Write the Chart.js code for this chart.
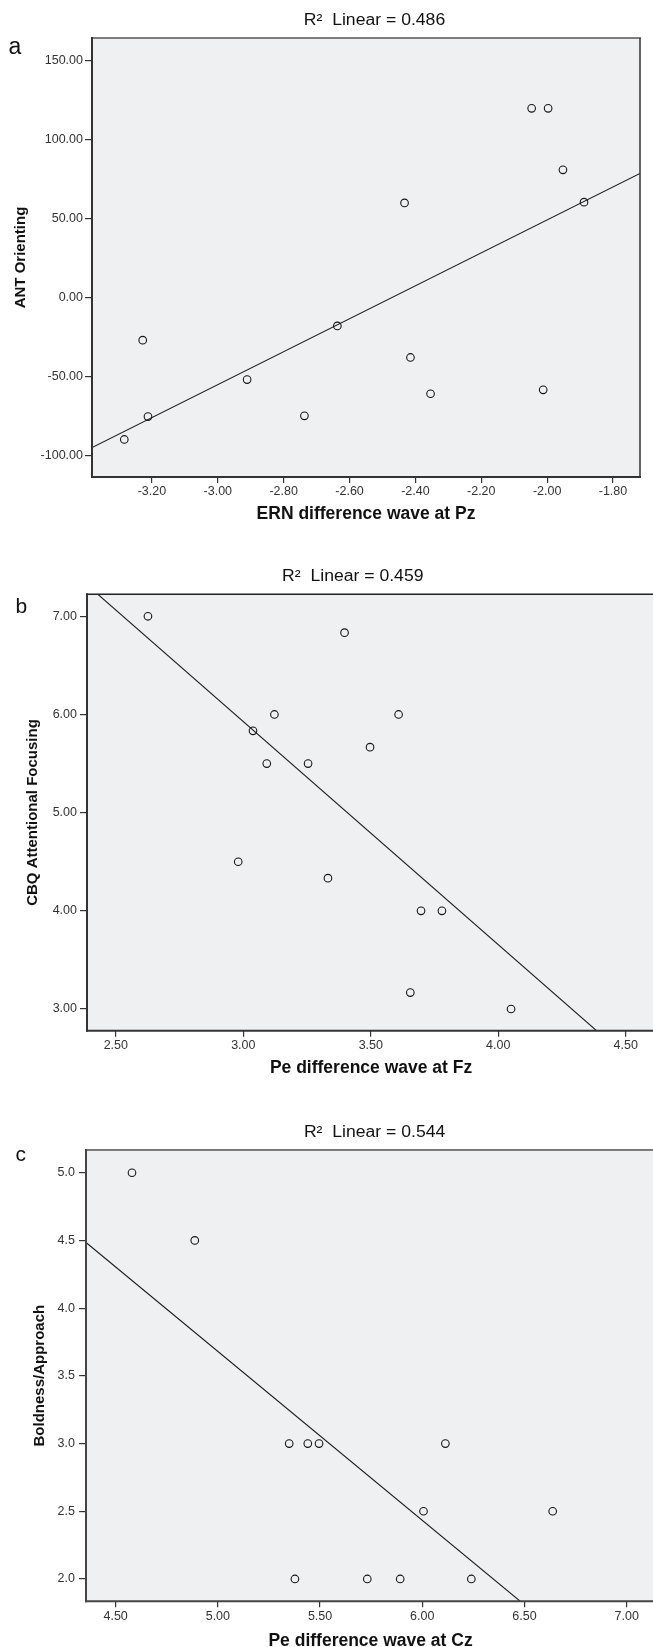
<!DOCTYPE html>
<html>
<head>
<meta charset="utf-8">
<script src="https://cdn.jsdelivr.net/npm/chart.js@4.4.1/dist/chart.umd.min.js"></script>
<style>
html,body{margin:0;padding:0;background:#fff;overflow:hidden;width:653px;height:1647px;position:relative;}
.wrap{position:absolute;left:0;}
canvas{display:block;}
</style>
</head>
<body>
<div class="wrap" style="top:0px;width:653px;height:535px"><canvas id="ca"></canvas></div>
<div class="wrap" style="top:535px;width:660px;height:545px"><canvas id="cb"></canvas></div>
<div class="wrap" style="top:1080px;width:660px;height:580px"><canvas id="cc"></canvas></div>
<script>
// ---------- data ----------
const panelLetters = ['a', 'b', 'c'];
const r2Labels = ['0.486', '0.459', '0.544'];

const ernPz        = [-2.047, -1.997, -1.952, -1.888, -2.433, -3.228, -3.212, -3.284, -2.911, -2.737, -2.637, -2.415, -2.354, -2.012];
const antOrienting = [120, 120, 81, 60.5, 60, -27, -75.5, -90, -52, -75, -18, -38, -61, -58.5];

const peFz         = [2.626, 3.397, 3.122, 3.609, 3.038, 3.497, 3.092, 3.254, 2.98, 3.332, 3.697, 3.779, 3.655, 4.05];
const cbqFocusing  = [7.0, 6.833, 6.0, 6.0, 5.833, 5.667, 5.5, 5.5, 4.5, 4.333, 4.0, 4.0, 3.167, 3.0];

const peCz             = [4.58, 4.887, 5.349, 5.44, 5.495, 6.113, 6.006, 6.638, 5.377, 5.731, 5.892, 6.24];
const boldnessApproach = [5, 4.5, 3, 3, 3, 3, 2.5, 2.5, 2, 2, 2, 2];

const xTitles = ['ERN difference wave at Pz', 'Pe difference wave at Fz', 'Pe difference wave at Cz'];
const yTitles = ['ANT Orienting', 'CBQ Attentional Focusing', 'Boldness/Approach'];

const aXTickLabels = ['-3.20', '-3.00', '-2.80', '-2.60', '-2.40', '-2.20', '-2.00', '-1.80'];
const aYTickLabels = ['-100.00', '-50.00', '0.00', '50.00', '100.00', '150.00'];
const bXTickLabels = ['2.50', '3.00', '3.50', '4.00', '4.50'];
const bYTickLabels = ['3.00', '4.00', '5.00', '6.00', '7.00'];
const cXTickLabels = ['4.50', '5.00', '5.50', '6.00', '6.50', '7.00'];
const cYTickLabels = ['2.0', '2.5', '3.0', '3.5', '4.0', '4.5', '5.0'];

// ---------- helpers ----------
const FONT = "'Liberation Sans', Arial, Helvetica, sans-serif";

function linFit(xs, ys) {
  const n = xs.length;
  const mx = xs.reduce((s, v) => s + v, 0) / n;
  const my = ys.reduce((s, v) => s + v, 0) / n;
  let sxy = 0, sxx = 0;
  for (let i = 0; i < n; i++) { sxy += (xs[i] - mx) * (ys[i] - my); sxx += (xs[i] - mx) * (xs[i] - mx); }
  const m = sxy / sxx;
  return { m, b: my - m * mx };
}

const deco = {
  id: 'deco',
  beforeDraw(chart, args, o) {
    const { ctx, chartArea: a } = chart;
    ctx.save();
    ctx.fillStyle = '#eff0f2';
    ctx.fillRect(a.left, a.top, a.right - a.left, a.bottom - a.top);
    ctx.restore();
  },
  afterDraw(chart, args, o) {
    const { ctx, chartArea: a } = chart;
    ctx.save();
    const seg = (s, x1, y1, x2, y2) => {
      if (!s) return;
      ctx.strokeStyle = s.c; ctx.lineWidth = s.w;
      ctx.beginPath(); ctx.moveTo(x1, y1); ctx.lineTo(x2, y2); ctx.stroke();
    };
    const B = o.borders;
    seg(B.top, a.left - 1, a.top, a.right + 1, a.top);
    seg(B.right, a.right, a.top, a.right, a.bottom);
    seg(B.bottom, a.left - 1, a.bottom, a.right + 1, a.bottom);
    seg(B.left, a.left, a.top - 1, a.left, a.bottom + 1);

    // title
    ctx.fillStyle = '#111';
    ctx.font = '16px ' + FONT;
    ctx.textBaseline = 'alphabetic';
    ctx.textAlign = 'center';
    ctx.translate(o.titleX, o.titleY);
    ctx.scale(1.1, 1);
    ctx.fillText(o.title, 0, 0);
    ctx.restore();

    // panel letter
    ctx.save();
    ctx.fillStyle = '#111';
    ctx.font = o.letterSize + 'px ' + FONT;
    ctx.textAlign = 'left';
    ctx.textBaseline = 'alphabetic';
    ctx.fillText(o.letter, o.letterX, o.letterY);
    ctx.restore();
  }
};

function build(id, idx, xs, ys, xLabels, yLabels, L) {
  const xVals = xLabels.map(parseFloat);
  const yVals = yLabels.map(parseFloat);
  const f = linFit(xs, ys);
  const pts = xs.map((x, i) => ({ x, y: ys[i] }));
  const fitLine = [L.xMin, L.xMax].map(x => ({ x, y: f.b + f.m * x }));
  const tickFont = { family: FONT, size: 12.5 };
  new Chart(document.getElementById(id), {
    type: 'scatter',
    data: {
      datasets: [
        { data: pts, pointStyle: 'circle', pointRadius: 3.8, pointHoverRadius: 3.8, pointBorderWidth: 1.1,
          borderColor: '#151515', backgroundColor: 'rgba(0,0,0,0)', order: 1 },
        { type: 'line', data: fitLine, borderColor: '#1a1a1a', borderWidth: 1.1,
          pointRadius: 0, fill: false, tension: 0, order: 2 }
      ]
    },
    options: {
      responsive: true, maintainAspectRatio: false, animation: false, events: [],
      layout: { padding: { left: 0, top: L.area.t, right: L.width - L.area.r, bottom: 0 } },
      plugins: {
        legend: { display: false }, tooltip: { enabled: false }, title: { display: false },
        deco: {
          title: 'R\u00B2  Linear = ' + r2Labels[idx], titleX: L.titleX, titleY: L.titleY,
          letter: panelLetters[idx], letterX: L.letterX, letterY: L.letterY, letterSize: L.letterSize,
          borders: L.borders
        }
      },
      scales: {
        x: {
          type: 'linear', position: 'bottom', min: L.xMin, max: L.xMax,
          afterBuildTicks: s => { s.ticks = xVals.map(v => ({ value: v })); },
          afterFit: s => { s.height = L.height - L.area.b; },
          ticks: { callback: (v, i) => xLabels[i], font: tickFont, color: '#333', padding: L.xTickPad,
                   maxRotation: 0, autoSkip: false },
          grid: { drawOnChartArea: false, drawTicks: true, tickLength: 6, color: '#333', lineWidth: 1.2 },
          border: { display: false },
          title: { display: true, text: xTitles[idx], color: '#111',
                   font: { family: FONT, size: 17.5, weight: 'bold' },
                   padding: { top: 0, bottom: L.xTitlePad } }
        },
        y: {
          type: 'linear', position: 'left', min: L.yMin, max: L.yMax,
          afterBuildTicks: s => { s.ticks = yVals.map(v => ({ value: v })); },
          afterFit: s => { s.width = L.area.l; },
          ticks: { callback: (v, i) => yLabels[i], font: tickFont, color: '#333', padding: L.yTickPad,
                   autoSkip: false },
          grid: { drawOnChartArea: false, drawTicks: true, tickLength: 7, color: '#333', lineWidth: 1.2 },
          border: { display: false },
          title: { display: true, text: yTitles[idx], color: '#111',
                   font: { family: FONT, size: 15, weight: 'bold' },
                   padding: { top: L.yTitlePad, bottom: 0 } }
        }
      }
    },
    plugins: [deco]
  });
}

build('ca', 0, ernPz, antOrienting, aXTickLabels, aYTickLabels, {
  width: 653, height: 535, area: { l: 92, t: 38, r: 640, b: 477 },
  xMin: -3.382, xMax: -1.718, yMin: -113.8, yMax: 164.6,
  xTickPad: 0.7, yTickPad: 2, xTitlePad: 10.5, yTitlePad: 12,
  titleX: 374.5, titleY: 25, letterX: 8.5, letterY: 54, letterSize: 23,
  borders: { top: { c: '#555', w: 1.5 }, right: { c: '#333', w: 1.5 },
             bottom: { c: '#333', w: 2 }, left: { c: '#333', w: 2 } }
});

build('cb', 1, peFz, cbqFocusing, bXTickLabels, bYTickLabels, {
  width: 660, height: 545, area: { l: 87, t: 59.3, r: 656, b: 495.7 },
  xMin: 2.387, xMax: 4.615, yMin: 2.779, yMax: 7.224,
  xTickPad: 1.2, yTickPad: 3, xTitlePad: 1.5, yTitlePad: 24,
  titleX: 352.8, titleY: 45.7, letterX: 15.5, letterY: 78, letterSize: 21,
  borders: { top: { c: '#222', w: 1.5 }, bottom: { c: '#333', w: 2 }, left: { c: '#333', w: 2 } }
});

build('cc', 2, peCz, boldnessApproach, cXTickLabels, cYTickLabels, {
  width: 660, height: 580, area: { l: 86, t: 70, r: 656, b: 521.3 },
  xMin: 4.355, xMax: 7.139, yMin: 1.835, yMax: 5.168,
  xTickPad: 1.6, yTickPad: 4, xTitlePad: 8.5, yTitlePad: 30.5,
  titleX: 374.6, titleY: 56.7, letterX: 15.5, letterY: 81, letterSize: 21,
  borders: { top: { c: '#7a7a7a', w: 2 }, bottom: { c: '#444', w: 2 }, left: { c: '#444', w: 2 } }
});
</script>
</body>
</html>
